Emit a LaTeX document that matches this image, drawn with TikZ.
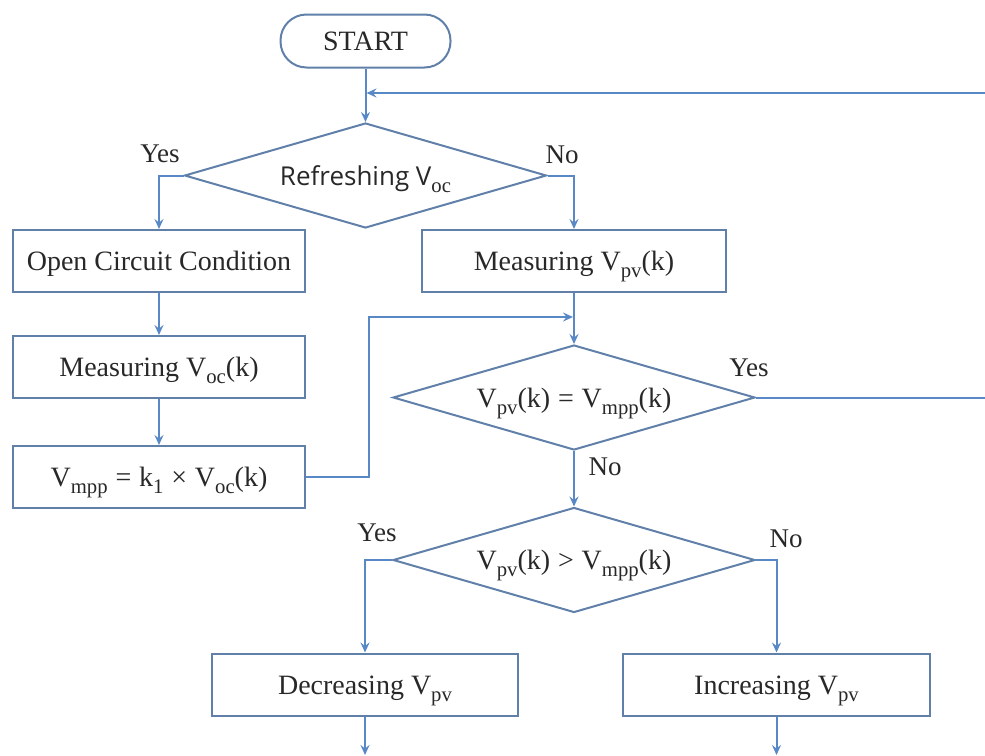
\documentclass[tikz,border=0pt]{standalone}
\usepackage{fontspec}
\usepackage{graphicx}
\setmainfont{Liberation Serif}
\newfontfamily\flowsans{Open Sans}
\usetikzlibrary{shapes.geometric,arrows.meta}
\definecolor{flowline}{RGB}{88,136,198}
\definecolor{flowedge}{RGB}{96,128,170}
\definecolor{flowtext}{RGB}{40,40,40}
% lowered, reduced subscript in the style of math subscripts
\newcommand{\lowsub}[1]{\raisebox{-0.26em}{\scalebox{0.74}{#1}}}
% relation sign with math-like spacing
\newcommand{\rel}[1]{\hspace{0.28em}#1\hspace{0.28em}}
\begin{document}
\begin{tikzpicture}[x=1pt,y=-1pt,
  txt/.style={font=\fontsize{28}{32}\selectfont, text=flowtext,
    text height=19pt, text depth=0pt},
  lbl/.style={font=\fontsize{27}{30}\selectfont, text=flowtext},
  procbox/.style={txt, draw=flowedge, line width=2pt, rectangle,
    minimum width=#1, minimum height=62pt, inner sep=0pt},
  decision/.style={txt, draw=flowedge, line width=2pt, diamond,
    shape aspect=3.45, minimum width=362pt, minimum height=105pt, inner sep=0pt},
  terminal/.style={txt, draw=flowedge, line width=2pt, rectangle,
    rounded corners=26pt, minimum width=170pt, minimum height=53pt, inner sep=0pt},
  link/.style={draw=flowline, line width=2pt},
  flow/.style={link, -{Stealth[length=10pt,width=9pt,inset=3.5pt]}},
]
\useasboundingbox (0,0) rectangle (985,755);

% terminal and decisions
\node[terminal] (start) at (365.5,41) {START};
\node[decision] (d1) at (365.5,175.5) {{\flowsans\fontsize{26}{30}\selectfont Refreshing V}\lowsub{oc}};
\node[decision] (d2) at (574,397.5) {V\lowsub{pv}(k)\rel{=}V\lowsub{mpp}(k)};
\node[decision] (d3) at (574,560) {V\lowsub{pv}(k)\rel{>}V\lowsub{mpp}(k)};

% process boxes
\node[procbox=292pt] (ocond) at (159,261) {Open Circuit Condition};
\node[procbox=292pt] (mvoc)  at (159,367) {Measuring V\lowsub{oc}(k)};
\node[procbox=292pt] (vmpp)  at (159,477) {V\lowsub{mpp}\rel{=}k\lowsub{1}\rel{×}V\lowsub{oc}(k)};
\node[procbox=304pt] (mvpv)  at (574,261) {Measuring V\lowsub{pv}(k)};
\node[procbox=306pt] (dec)   at (365,684.5) {Decreasing V\lowsub{pv}};
\node[procbox=307pt] (inc)   at (776.5,684.5) {Increasing V\lowsub{pv}};

% free ends of the loop-back lines and the outgoing arrows
\coordinate (loopR) at (985,93);
\coordinate (loopL) at (366.5,93);
\coordinate (yesR)  at (985,397.5);
\coordinate (join)  at (573,317);
\coordinate (decOut) at (365,755);
\coordinate (incOut) at (776.5,755);

% connectors
\draw[flow] (start) -- (d1);
\draw[flow] (loopR) -- (loopL);
\draw[flow] (d1.west) -| (ocond.north);
\draw[flow] (d1.east) -| (mvpv.north);
\draw[flow] (ocond) -- (mvoc);
\draw[flow] (mvoc) -- (vmpp);
\draw[flow] (vmpp.east) -- ++(63,0) |- (join);
\draw[flow] (mvpv) -- (d2);
\draw[link] (d2.east) -- (yesR);
\draw[flow] (d2) -- (d3);
\draw[flow] (d3.west) -| (dec.north);
\draw[flow] (d3.east) -| (inc.north);
\draw[flow] (dec) -- (decOut);
\draw[flow] (inc) -- (incOut);

% branch labels
\node[lbl] (y1) at (160,154) {Yes};
\node[lbl] (n1) at (562,155) {No};
\node[lbl] (y2) at (749,368) {Yes};
\node[lbl] (n2) at (605,467) {No};
\node[lbl] (y3) at (377,533) {Yes};
\node[lbl] (n3) at (786,539) {No};
\end{tikzpicture}
\end{document}
